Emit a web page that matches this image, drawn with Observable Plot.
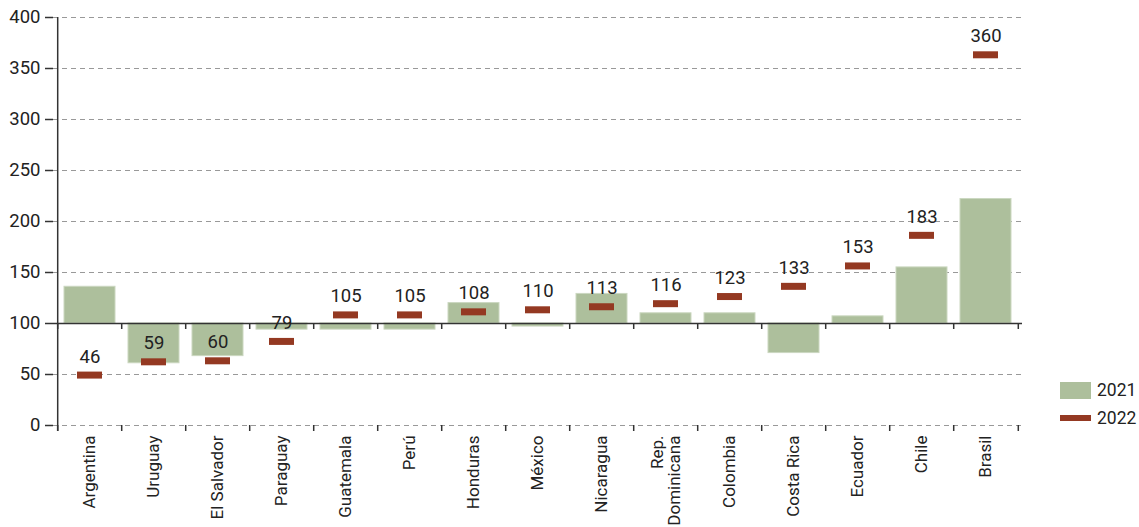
<!DOCTYPE html>
<html>
<head>
<meta charset="utf-8">
<script src="https://cdn.jsdelivr.net/npm/d3@7"></script>
<script src="https://cdn.jsdelivr.net/npm/@observablehq/plot@0.6"></script>
<style>
  body { margin: 0; background: #fff; }
  #wrap { position: relative; width: 1139px; height: 527px; font-family: "Roboto", sans-serif; }
  .leg { position: absolute; left: 1060px; display: flex; align-items: center; font-size: 17.5px; color: #222; white-space: nowrap; }
  .sw { width: 31px; margin-right: 6px; }
</style>
</head>
<body>
<div id="wrap"></div>
<script>
const countries = ["Argentina","Uruguay","El Salvador","Paraguay","Guatemala","Perú","Honduras","México","Nicaragua","Rep.\nDominicana","Colombia","Costa Rica","Ecuador","Chile","Brasil"];
const values2021 = [136, 61, 68, 94, 94, 94, 120, 97, 129, 110, 110, 71, 107, 155, 222];
const values2022 = [46, 59, 60, 79, 105, 105, 108, 110, 113, 116, 123, 133, 153, 183, 360];
const yTicks = [0, 50, 100, 150, 200, 250, 300, 350, 400];
const baseline = 100;

const data = countries.map((c, i) => ({country: c, v2021: values2021[i], v2022: values2022[i]}));

const W = 1139, H = 527, mL = 53, mR = 117, mT = 17, mB = 102;
const step = (W - mL - mR) / countries.length;
const unitPerPx = 400 / (H - mT - mB);
const green = "#adbf9c", red = "#943922";
const font = '"Roboto", sans-serif';

const boundaries = countries.map((c, i) => ({c, dx: -step / 2})).concat([{c: countries[countries.length - 1], dx: step / 2}]);

const chart = Plot.plot({
  width: W, height: H,
  marginLeft: mL, marginRight: mR, marginTop: mT, marginBottom: mB,
  style: {fontFamily: font, color: "#222", background: "#fff"},
  x: {domain: countries, paddingInner: 0.21, paddingOuter: 0.105, label: null},
  y: {domain: [0, 400], label: null},
  marks: [
    Plot.gridY(yTicks, {stroke: "#999", strokeOpacity: 1, strokeDasharray: "5,4"}),
    Plot.barY(data, {x: "country", y1: baseline, y2: "v2021", fill: green, stroke: "#cbd7c0", strokeWidth: 1}),
    Plot.ruleY([baseline], {stroke: "#333", strokeWidth: 1.5}),
    ...boundaries.map(b => Plot.ruleX([b.c], {dx: b.dx, y1: baseline, y2: baseline - 6 * unitPerPx, stroke: "#333", strokeWidth: 1.5})),
    ...boundaries.map(b => Plot.ruleX([b.c], {dx: b.dx, y1: 0, y2: -6 * unitPerPx, stroke: "#333", strokeWidth: 1.5})),
    Plot.ruleX([countries[0]], {dx: -step / 2, y1: 400, y2: -6 * unitPerPx, stroke: "#333", strokeWidth: 1.5}),
    Plot.tickY(data, {x: "country", y: "v2022", stroke: red, strokeWidth: 7, dy: -3.5, insetLeft: 13, insetRight: 13}),
    Plot.text(data, {x: "country", y: "v2022", text: d => String(d.v2022), dy: -16, lineAnchor: "bottom", fontSize: 18.5, fill: "#222"}),
    Plot.axisY({ticks: yTicks, tickSize: 8, tickPadding: 5, fontSize: 18.5, stroke: "#333", strokeWidth: 1.5, tickFormat: d => String(d)}),
    Plot.axisX({tickSize: 0, tickPadding: 10, tickRotate: -90, fontSize: 17, label: null, fill: "#222"})
  ]
});

const wrap = document.getElementById("wrap");
wrap.appendChild(chart);

const legendItems = [
  {label: "2021", top: 380, h: 17, color: green},
  {label: "2022", top: 408, h: 6, color: red}
];
legendItems.forEach(it => {
  const row = document.createElement("div");
  row.className = "leg";
  row.style.top = it.top + "px";
  row.style.height = "20px";
  const sw = document.createElement("div");
  sw.className = "sw";
  sw.style.height = it.h + "px";
  sw.style.background = it.color;
  const t = document.createElement("span");
  t.textContent = it.label;
  row.appendChild(sw);
  row.appendChild(t);
  wrap.appendChild(row);
});
</script>
</body>
</html>
